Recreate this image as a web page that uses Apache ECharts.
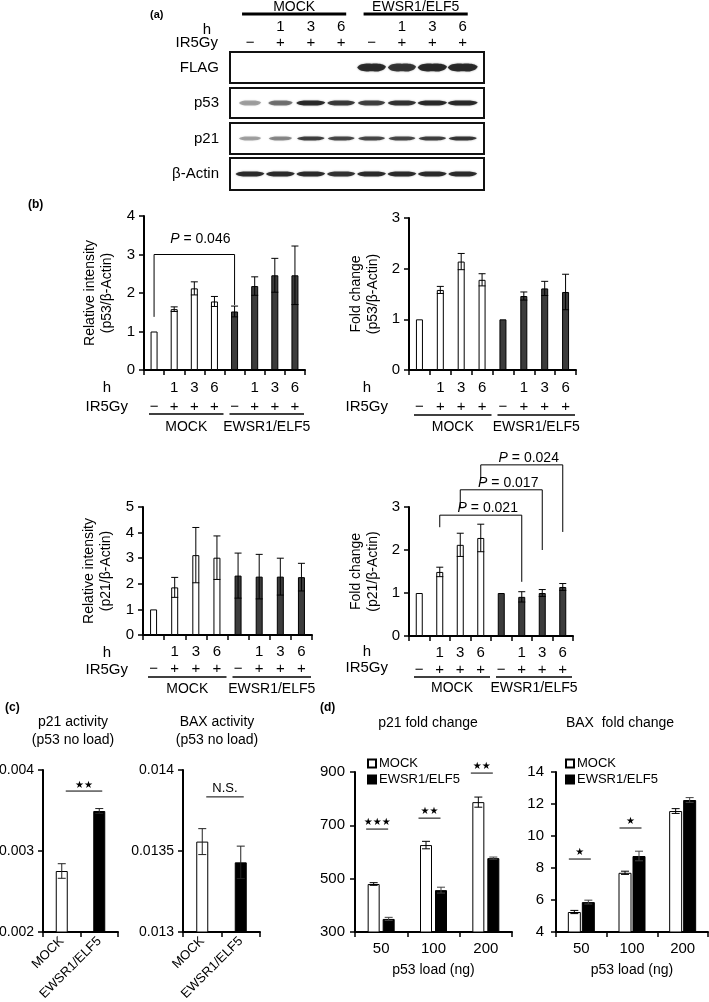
<!DOCTYPE html>
<html>
<head>
<meta charset="utf-8">
<script src="https://cdn.jsdelivr.net/npm/echarts@6/dist/echarts.min.js"></script>
<style>
html, body { margin: 0; padding: 0; background: #fff; }
#main { width: 709px; height: 1002px; }
</style>
</head>
<body>
<div id="main"></div>
<script>
var FONT = '"Liberation Sans", Arial, sans-serif';
var BLACK = '#000';

// lanes / groups
var laneHours = ['', '1', '3', '6', '', '1', '3', '6'];
var laneIR = ['\u2212', '+', '+', '+', '\u2212', '+', '+', '+'];
var groups = ['MOCK', 'EWSR1/ELF5'];
var groupLanes = [[0, 3], [4, 7]];

// (a) blot band intensities (0..1)
var blotRows = ['FLAG', 'p53', 'p21', 'β-Actin'];
var flagBands = [0, 0, 0, 0, 0.9, 0.85, 0.95, 1];
var p53Bands = [0.35, 0.55, 0.92, 0.82, 0.78, 0.86, 0.95, 1];
var p21Bands = [0.35, 0.45, 0.8, 0.75, 0.75, 0.75, 0.8, 0.85];
var actinBands = [0.9, 0.9, 0.9, 0.86, 0.9, 0.9, 0.9, 0.9];

// (b)
var p53Rel = [1, 1.58, 2.12, 1.78, 1.52, 2.18, 2.46, 2.46];
var p53RelErr = [0, 0.06, 0.17, 0.13, 0.14, 0.24, 0.44, 0.76];
var p53Fold = [1, 1.58, 2.14, 1.78, 1, 1.46, 1.61, 1.54];
var p53FoldErr = [0, 0.07, 0.16, 0.12, 0, 0.08, 0.14, 0.35];
var p21Rel = [1, 1.86, 3.12, 3.02, 2.32, 2.28, 2.28, 2.26];
var p21RelErr = [0, 0.39, 1.08, 0.85, 0.88, 0.87, 0.72, 0.54];
var p21Fold = [1, 1.49, 2.12, 2.28, 1, 0.91, 1, 1.14];
var p21FoldErr = [0, 0.11, 0.27, 0.32, 0, 0.12, 0.08, 0.08];
// brackets: [fromLane, toLane, top, leftEnd, rightEnd]
var p53RelBrackets = [[0, 4, 3.0, 1.38, 1.69]];
var p53RelPvals = ['0.046'];
var p21FoldBrackets = [[1, 5, 2.81, 2.53, 1.26], [2, 6, 3.40, 2.98, 2.0], [3, 7, 3.98, 3.63, 2.42]];
var p21FoldPvals = ['0.021', '0.017', '0.024'];

// (c)
var p21Act = [0.002753, 0.003494];
var p21ActErr = [0.00009, 0.00003];
var baxAct = [0.013558, 0.01343];
var baxActErr = [0.00008, 0.0001];
var p21ActSig = [[0, 1, 0.00374]];
var baxActSig = [[0, 1, 0.013834]];

// (d)
var p53Loads = ['50', '100', '200'];
var p21FoldMock = [480, 626, 787];
var p21FoldMockErr = [5, 14, 19];
var p21FoldEws = [349, 457, 577];
var p21FoldEwsErr = [6, 11, 4];
var p21FoldSig = [[0, 686], [1, 727], [2, 896]];
var p21FoldSigText = ['★★★', '★★', '★★'];
var baxFoldMock = [5.25, 7.7, 11.56];
var baxFoldMockErr = [0.1, 0.1, 0.15];
var baxFoldEws = [5.87, 8.75, 12.25];
var baxFoldEwsErr = [0.12, 0.3, 0.15];
var baxFoldSig = [[0, 8.56], [1, 10.5]];
var baxFoldSigText = ['★', '★'];

var grids = [], xAxes = [], yAxes = [], series = [], graphics = [];

function addGrid(g) {
  g.containLabel = false;
  g.outerBoundsMode = 'none';
  grids.push(g);
  return grids.length - 1;
}

function txt(text, x, y, o) {
  o = o || {};
  graphics.push({
    type: 'text', x: x, y: y, silent: true,
    style: {
      text: text, fill: BLACK, fontFamily: FONT,
      fontSize: o.size || 14, fontWeight: o.weight || 'normal',
      align: o.align || 'center', verticalAlign: 'middle', lineHeight: o.lh
    }
  });
}

function yAxisOf(g, min, max, interval, fontSize, margin, name, nameGap) {
  return {
    gridIndex: g, type: 'value', min: min, max: max, interval: interval,
    axisLine: { show: true, lineStyle: { color: BLACK, width: 2 } },
    axisTick: { show: true, length: 5, lineStyle: { color: BLACK, width: 1.5 } },
    axisLabel: { color: BLACK, fontSize: fontSize, fontFamily: FONT, margin: margin },
    splitLine: { show: false },
    name: name, nameLocation: 'middle', nameRotate: 90, nameGap: nameGap,
    nameTextStyle: { color: BLACK, fontSize: 14, fontFamily: FONT, lineHeight: 17 }
  };
}

function errorSeries(g, vals, errs, dx, capW, color) {
  return {
    type: 'custom', xAxisIndex: g, yAxisIndex: g, silent: true, z: 4, clip: false,
    data: vals.map(function (v, i) { return [i, v, errs[i]]; }),
    renderItem: function (params, api) {
      var e = api.value(2);
      if (!e) return { type: 'group', children: [] };
      var i = api.value(0), v = api.value(1);
      var hi = api.coord([i, v + e]), lo = api.coord([i, v - e]);
      var x = hi[0] + dx, st = { stroke: color || BLACK, lineWidth: 1 };
      return {
        type: 'group', children: [
          { type: 'line', shape: { x1: x, y1: hi[1], x2: x, y2: lo[1] }, style: st },
          { type: 'line', shape: { x1: x - capW / 2, y1: hi[1], x2: x + capW / 2, y2: hi[1] }, style: st },
          { type: 'line', shape: { x1: x - capW / 2, y1: lo[1], x2: x + capW / 2, y2: lo[1] }, style: st }
        ]
      };
    }
  };
}

// ---------- (a) western blot ----------
var blotBands = [flagBands, p53Bands, p21Bands, actinBands];
var blotBox = [[52, 31, 8], [88, 30, 5], [123, 31, 4], [158, 32, 5]];
// tapered band shape
var BAND = 'path://M0,5 C8,0.5 30,0 50,0.5 C70,0 92,0.5 100,4 C92,9.5 70,10 50,9.5 C30,10 8,9.5 0,5 Z';
blotRows.forEach(function (row, r) {
  var g = addGrid({ left: 230, top: blotBox[r][0], width: 254, height: blotBox[r][1],
    show: true, borderColor: '#111', borderWidth: 2, backgroundColor: '#fff' });
  xAxes.push({ gridIndex: g, type: 'value', min: -0.66, max: 7.7, show: false });
  yAxes.push({ gridIndex: g, type: 'category', data: [row],
    axisLine: { show: false }, axisTick: { show: false },
    axisLabel: { color: BLACK, fontSize: 15, fontFamily: FONT, margin: 11 } });
  var bh = blotBox[r][2];
  series.push({
    type: 'scatter', xAxisIndex: g, yAxisIndex: g, silent: true, symbol: BAND,
    symbolKeepAspect: false,
    symbolSize: function (v) { return [18 + 12 * v[2], bh]; },
    itemStyle: {
      color: function (p) { return 'rgba(8,8,8,' + Math.min(1, p.value[2] * 1.1) + ')'; },
      shadowBlur: 2, shadowColor: 'rgba(0,0,0,0.45)'
    },
    data: blotBands[r].map(function (b, i) { return [i, 0, b]; })
  });
});
// lane headers
series.push({
  type: 'custom', xAxisIndex: 0, yAxisIndex: 0, silent: true, clip: false,
  data: laneHours.map(function (h, i) { return [i, 0]; }),
  renderItem: function (params, api) {
    var x = api.coord([api.value(0), 0])[0], top = params.coordSys.y, i = params.dataIndex;
    var s = { fill: BLACK, fontFamily: FONT, fontSize: 15, align: 'center', verticalAlign: 'middle' };
    return { type: 'group', children: [
      { type: 'text', x: x, y: top - 25, style: echarts.util.extend({ text: laneHours[i] }, s) },
      { type: 'text', x: x, y: top - 9, style: echarts.util.extend({ text: laneIR[i] }, s) }
    ] };
  }
});
series.push({
  type: 'custom', xAxisIndex: 0, yAxisIndex: 0, silent: true, clip: false,
  data: groupLanes.map(function (d) { return [d[0], 0, d[1]]; }),
  renderItem: function (params, api) {
    var x1 = api.coord([api.value(0), 0])[0] - 8, x2 = api.coord([api.value(2), 0])[0] + 5;
    var top = params.coordSys.y;
    return { type: 'group', children: [
      { type: 'line', shape: { x1: x1, y1: top - 38, x2: x2, y2: top - 38 }, style: { stroke: BLACK, lineWidth: 3 } },
      { type: 'text', x: (x1 + x2) / 2, y: top - 45, style: { text: groups[params.dataIndex], fill: BLACK,
        fontFamily: FONT, fontSize: 14, align: 'center', verticalAlign: 'middle' } }
    ] };
  }
});
txt('(a)', 150, 15, { size: 11, weight: 'bold', align: 'left' });
txt('h', 207, 30, { size: 15 });
txt('IR5Gy', 218, 43, { size: 15, align: 'right' });

// ---------- (b) lane bar charts ----------
var laneIds = laneHours.map(function (h, i) { return 'lane' + i; });
function laneChart(o) {
  var g = addGrid(o.rect);
  xAxes.push({
    gridIndex: g, type: 'category', data: laneIds,
    axisLine: { lineStyle: { color: BLACK, width: 2 } },
    axisTick: { show: true, interval: 0, length: 5, lineStyle: { color: BLACK, width: 1.5 } },
    axisLabel: {
      interval: 0, margin: 8, color: BLACK, fontFamily: FONT,
      formatter: function (v, i) { return '{n|' + (laneHours[i] || ' ') + '}\n{s|' + laneIR[i] + '}'; },
      rich: {
        n: { fontSize: 15, fontFamily: FONT, color: BLACK, lineHeight: o.lh[0] },
        s: { fontSize: 15, fontFamily: FONT, color: BLACK, lineHeight: o.lh[1] }
      }
    }
  });
  yAxes.push(yAxisOf(g, 0, o.max, 1, 15, 9, o.name, o.nameGap));
  series.push({
    type: 'bar', name: 'b' + g, xAxisIndex: g, yAxisIndex: g, barWidth: 7, silent: true,
    itemStyle: { borderColor: BLACK, borderWidth: 1 },
    data: o.values.map(function (v, i) {
      return { value: v, itemStyle: { color: i < 4 ? '#fff' : '#3c3c3c' } };
    })
  });
  series.push(errorSeries(g, o.values, o.errs, 0, 7, BLACK));
  // group underline + name
  series.push({
    type: 'custom', xAxisIndex: g, yAxisIndex: g, silent: true, clip: false,
    data: groupLanes.map(function (d) { return [d[0], 0, d[1]]; }),
    renderItem: function (params, api) {
      var bw = api.size([1, 0])[0];
      var x1 = api.coord([api.value(0), 0])[0] - bw / 2 + 5;
      var x2 = api.coord([api.value(2), 0])[0] + bw / 2 - 1;
      var y = params.coordSys.y + params.coordSys.height + o.under[0];
      return { type: 'group', children: [
        { type: 'line', shape: { x1: x1, y1: y, x2: x2, y2: y }, style: { stroke: BLACK, lineWidth: 1.5 } },
        { type: 'text', x: (x1 + x2) / 2, y: y + o.under[1], style: { text: groups[params.dataIndex],
          fill: BLACK, fontFamily: FONT, fontSize: 14, align: 'center', verticalAlign: 'middle' } }
      ] };
    }
  });
  if (o.brackets) {
    series.push({
      type: 'custom', xAxisIndex: g, yAxisIndex: g, silent: true, clip: false,
      data: o.brackets,
      renderItem: function (params, api) {
        var a = api.coord([api.value(0), api.value(2)]);
        var b = api.coord([api.value(1), api.value(2)]);
        var aL = api.coord([api.value(0), api.value(3)]);
        var bR = api.coord([api.value(1), api.value(4)]);
        return { type: 'group', children: [
          { type: 'polyline', shape: { points: [[a[0], aL[1]], a, b, [b[0], bR[1]]] },
            style: { stroke: BLACK, lineWidth: 1, fill: null } },
          { type: 'text', x: (a[0] + b[0]) / 2 + o.ptext[0], y: a[1] - o.ptext[1],
            style: { text: '{i|P} = ' + o.pvals[params.dataIndex], fill: BLACK, fontFamily: FONT,
              fontSize: 14, align: 'center', verticalAlign: 'middle',
              rich: { i: { fontStyle: 'italic', fontFamily: FONT, fontSize: 14, fill: BLACK } } } }
        ] };
      }
    });
  }
  txt('h', o.hx, o.hy[0], { size: 15 });
  txt('IR5Gy', o.hx + 21, o.hy[1], { size: 15, align: 'right' });
}

laneChart({ rect: { left: 144, top: 216, width: 161, height: 154 }, max: 4,
  name: 'Relative intensity\n(p53/β-Actin)', nameGap: 28, values: p53Rel, errs: p53RelErr,
  lh: [20, 18], under: [44, 13], hx: 107, hy: [388, 407],
  brackets: p53RelBrackets, pvals: p53RelPvals, ptext: [6, 15] });
laneChart({ rect: { left: 409, top: 218, width: 167, height: 152 }, max: 3,
  name: 'Fold change\n(p53/β-Actin)', nameGap: 27, values: p53Fold, errs: p53FoldErr,
  lh: [20, 18], under: [45, 12], hx: 367, hy: [388, 407] });
laneChart({ rect: { left: 143, top: 507, width: 169, height: 128 }, max: 5,
  name: 'Relative intensity\n(p21/β-Actin)', nameGap: 28, values: p21Rel, errs: p21RelErr,
  lh: [18, 16], under: [42, 12], hx: 107, hy: [653, 670] });
laneChart({ rect: { left: 409, top: 507, width: 164, height: 129 }, max: 3,
  name: 'Fold change\n(p21/β-Actin)', nameGap: 27, values: p21Fold, errs: p21FoldErr,
  lh: [18, 16], under: [41, 11], hx: 367, hy: [652, 668],
  brackets: p21FoldBrackets, pvals: p21FoldPvals, ptext: [7, 7] });
txt('(b)', 28, 205, { size: 12, weight: 'bold', align: 'left' });

// ---------- (c) activity ----------
function activityChart(o) {
  var g = addGrid(o.rect);
  xAxes.push({
    gridIndex: g, type: 'category', data: groups,
    axisLine: { lineStyle: { color: BLACK, width: 2 } },
    axisTick: { show: true, interval: 0, length: 5, lineStyle: { color: BLACK, width: 1.5 } },
    axisLabel: { interval: 0, rotate: 45, margin: 7, color: BLACK, fontFamily: FONT, fontSize: 13 }
  });
  yAxes.push(yAxisOf(g, o.min, o.max, o.interval, 14, 9, '', 0));
  series.push({
    type: 'bar', name: 'c' + g, xAxisIndex: g, yAxisIndex: g, barWidth: 12, silent: true,
    itemStyle: { borderColor: BLACK, borderWidth: 1 },
    data: o.values.map(function (v, i) { return { value: v, itemStyle: { color: i === 0 ? '#fff' : '#000' } }; })
  });
  series.push(errorSeries(g, o.values, o.errs, 0, 8, '#222'));
  series.push({
    type: 'custom', xAxisIndex: g, yAxisIndex: g, silent: true, clip: false,
    data: o.sig,
    renderItem: function (params, api) {
      var a = api.coord([api.value(0), api.value(2)]), b = api.coord([api.value(1), api.value(2)]);
      var x1 = a[0] + 4, x2 = b[0] + 3;
      return { type: 'group', children: [
        { type: 'line', shape: { x1: x1, y1: a[1], x2: x2, y2: a[1] }, style: { stroke: BLACK, lineWidth: 1 } },
        { type: 'text', x: (x1 + x2) / 2, y: a[1] - o.sigGap, style: { text: o.sigText, fill: BLACK,
          fontFamily: o.sigFont, fontSize: o.sigSize, align: 'center', verticalAlign: 'middle' } }
      ] };
    }
  });
}
activityChart({ rect: { left: 43, top: 770, width: 75, height: 162 }, min: 0.002, max: 0.004, interval: 0.001,
  values: p21Act, errs: p21ActErr, sig: p21ActSig, sigText: '★★', sigGap: 6, sigSize: 10, sigFont: '"DejaVu Sans", sans-serif' });
activityChart({ rect: { left: 183, top: 770, width: 77, height: 162 }, min: 0.013, max: 0.014, interval: 0.0005,
  values: baxAct, errs: baxActErr, sig: baxActSig, sigText: 'N.S.', sigGap: 8, sigSize: 13, sigFont: FONT });
txt('(c)', 5, 708, { size: 12, weight: 'bold', align: 'left' });
txt('p21 activity\n(p53 no load)', 73, 731, { size: 14, lh: 18 });
txt('BAX activity\n(p53 no load)', 217, 731, { size: 14, lh: 18 });

// ---------- (d) fold change ----------
var legends = [];
function foldChart(o) {
  var g = addGrid(o.rect);
  xAxes.push({
    gridIndex: g, type: 'category', data: p53Loads,
    axisLine: { lineStyle: { color: BLACK, width: 2 } },
    axisTick: { show: true, interval: 0, length: 5, lineStyle: { color: BLACK, width: 1.5 } },
    axisLabel: { interval: 0, margin: 9, color: BLACK, fontFamily: FONT, fontSize: 15 },
    name: 'p53 load (ng)', nameLocation: 'middle', nameGap: 31,
    nameTextStyle: { color: BLACK, fontFamily: FONT, fontSize: 14 }
  });
  yAxes.push(yAxisOf(g, o.min, o.max, o.interval, 15, o.labelMargin, '', 0));
  var half = (o.barW + o.gapPx) / 2;
  series.push({
    type: 'bar', name: 'MOCK', xAxisIndex: g, yAxisIndex: g, barWidth: o.barW,
    barGap: (o.gapPx / o.barW * 100) + '%', silent: true,
    itemStyle: { color: '#fff', borderColor: BLACK, borderWidth: 1 }, data: o.mock
  });
  series.push({
    type: 'bar', name: 'EWSR1/ELF5', xAxisIndex: g, yAxisIndex: g, barWidth: o.barW, silent: true,
    itemStyle: { color: '#000', borderColor: BLACK, borderWidth: 1 }, data: o.ews
  });
  series.push(errorSeries(g, o.mock, o.mockErr, -half, 8, BLACK));
  series.push(errorSeries(g, o.ews, o.ewsErr, half, 8, '#444'));
  series.push({
    type: 'custom', xAxisIndex: g, yAxisIndex: g, silent: true, clip: false,
    data: o.sig,
    renderItem: function (params, api) {
      var p = api.coord([api.value(0), api.value(1)]);
      var cx = p[0] + o.sigDx;
      return { type: 'group', children: [
        { type: 'line', shape: { x1: cx - 11, y1: p[1], x2: cx + 11, y2: p[1] }, style: { stroke: BLACK, lineWidth: 1 } },
        { type: 'text', x: cx, y: p[1] - 7, style: { text: o.sigText[params.dataIndex], fill: BLACK,
          fontFamily: '"DejaVu Sans", sans-serif', fontSize: 10, align: 'center', verticalAlign: 'middle' } }
      ] };
    }
  });
  legends.push({
    left: o.legendLeft, top: 757, orient: 'vertical', itemWidth: 8, itemHeight: 8, itemGap: 3,
    padding: 0, selectedMode: false, icon: 'rect', data: ['MOCK', 'EWSR1/ELF5'],
    textStyle: { color: BLACK, fontFamily: FONT, fontSize: 13, padding: [0, 0, 0, -2] }
  });
}
foldChart({ rect: { left: 355, top: 772, width: 157, height: 160 }, min: 300, max: 900, interval: 200,
  labelMargin: 10, mock: p21FoldMock, mockErr: p21FoldMockErr, ews: p21FoldEws, ewsErr: p21FoldEwsErr,
  barW: 12, gapPx: 3, sig: p21FoldSig, sigText: p21FoldSigText, sigDx: -4, legendLeft: 367 });
foldChart({ rect: { left: 556, top: 772, width: 152, height: 160 }, min: 4, max: 14, interval: 2,
  labelMargin: 12, mock: baxFoldMock, mockErr: baxFoldMockErr, ews: baxFoldEws, ewsErr: baxFoldEwsErr,
  barW: 13, gapPx: 1, sig: baxFoldSig, sigText: baxFoldSigText, sigDx: -1.5, legendLeft: 565 });
txt('(d)', 320, 708, { size: 12, weight: 'bold', align: 'left' });
txt('p21 fold change', 428, 723, { size: 14 });
txt('BAX  fold change', 620, 723, { size: 14 });

var chart = echarts.init(document.getElementById('main'), null, { renderer: 'canvas' });
chart.setOption({
  animation: false,
  backgroundColor: '#fff',
  textStyle: { fontFamily: FONT },
  grid: grids,
  xAxis: xAxes,
  yAxis: yAxes,
  legend: legends,
  series: series,
  graphic: graphics
});
</script>
</body>
</html>
